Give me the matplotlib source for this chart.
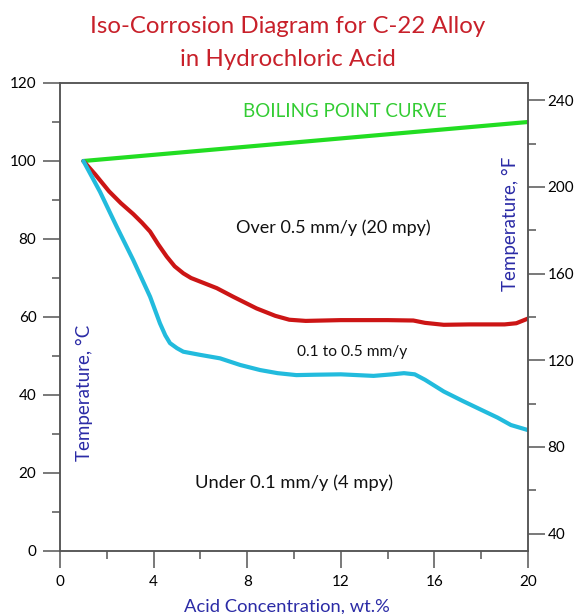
import matplotlib
matplotlib.use("Agg")
import matplotlib.pyplot as plt
from matplotlib.ticker import MultipleLocator

plt.rcParams['font.family'] = ['Lato', 'DejaVu Sans']

# Data
boil_x = [1, 20]
boil_y = [100, 110]

red_x = [1.0, 1.5, 2.1, 2.6, 3.13, 3.5, 3.85, 4.2, 4.56, 4.9, 5.27, 5.6, 5.98, 6.7, 7.4, 8.4, 9.2, 9.8, 10.5, 12.0, 14.0, 15.1, 15.6, 16.4, 17.5, 19.0, 19.5, 20.0]
red_y = [100, 96.6, 92.2, 89.2, 86.4, 84.2, 81.9, 78.6, 75.5, 73.0, 71.2, 70.0, 69.1, 67.4, 65.2, 62.2, 60.3, 59.3, 59.0, 59.2, 59.2, 59.1, 58.5, 58.0, 58.1, 58.1, 58.4, 59.6]

cyan_x = [1.0, 1.71, 2.42, 3.13, 3.85, 4.27, 4.5, 4.7, 5.0, 5.27, 5.98, 6.84, 7.7, 8.55, 9.3, 10.1, 10.9, 12.0, 13.4, 14.2, 14.7, 15.16, 15.6, 16.4, 17.2, 18.0, 18.7, 19.27, 20.0]
cyan_y = [100, 92.1, 83.2, 74.6, 65.2, 58.4, 55.3, 53.3, 52.0, 51.1, 50.3, 49.4, 47.7, 46.4, 45.6, 45.1, 45.2, 45.3, 44.9, 45.3, 45.6, 45.3, 43.9, 40.9, 38.5, 36.2, 34.2, 32.3, 31.0]

x_ticks = [0, 4, 8, 12, 16, 20]
c_ticks = [0, 20, 40, 60, 80, 100, 120]
f_ticks = [40, 80, 120, 160, 200, 240]
f_minor = [60, 100, 140, 180, 220]

title_lines = ['Iso-Corrosion Diagram for C-22 Alloy', 'in Hydrochloric Acid']

title_color = '#c8202a'
label_color = '#2b2ba6'
spine_color = '#555555'

fig = plt.figure(figsize=(5.8, 6.14), dpi=100)
ax = fig.add_axes([60/580, 1-551/614, 468/580, 468/614])

ax.plot(boil_x, boil_y, color='#22dd22', lw=3, solid_capstyle='round')
ax.plot(red_x, red_y, color='#cc1515', lw=3, solid_capstyle='round', solid_joinstyle='round')
ax.plot(cyan_x, cyan_y, color='#22bbdd', lw=3, solid_capstyle='round', solid_joinstyle='round')

ax.set_xlim(0, 20)
ax.set_ylim(0, 120)
ax.set_xticks(x_ticks)
ax.set_yticks(c_ticks)
ax.xaxis.set_minor_locator(MultipleLocator(2))
ax.yaxis.set_minor_locator(MultipleLocator(10))
ax.tick_params(which='major', direction='out', length=12, width=1.1, color=spine_color,
               labelsize=11, pad=5)
ax.tick_params(which='minor', direction='out', length=6, width=1.1, color=spine_color)
for s in ax.spines.values():
    s.set_color(spine_color)
    s.set_linewidth(1.1)

ax2 = ax.twinx()
ax2.set_ylim(32, 248)
ax2.set_yticks(f_ticks)
ax2.set_yticks(f_minor, minor=True)
ax2.tick_params(which='major', direction='out', length=12, width=1.1, color=spine_color,
                labelsize=11, pad=2)
ax2.tick_params(which='minor', direction='out', length=6, width=1.1, color=spine_color)
for s in ax2.spines.values():
    s.set_color(spine_color)
    s.set_linewidth(1.1)

# In-plot labels
ax.text(1.03, 40.5, 'Temperature, °C', rotation=90, color=label_color, fontsize=13.5,
        ha='center', va='center')
ax.text(19.23, 84, 'Temperature, °F', rotation=90, color=label_color, fontsize=13.5,
        ha='center', va='center')
ax.text(12.18, 112.6, 'BOILING POINT CURVE', color='#33cc33', fontsize=13.5,
        ha='center', va='center')
ax.text(11.67, 83, 'Over 0.5 mm/y (20 mpy)', color='#111111', fontsize=13,
        ha='center', va='center')
ax.text(12.5, 51, '0.1 to 0.5 mm/y', color='#111111', fontsize=11.2,
        ha='center', va='center')
ax.text(10.0, 17.4, 'Under 0.1 mm/y (4 mpy)', color='#111111', fontsize=13.2,
        ha='center', va='center')

fig.text(287/580, 1-607/614, 'Acid Concentration, wt.%', color=label_color, fontsize=13.2,
         ha='center', va='center')
fig.text(287.5/580, 1-33/614, title_lines[0], color=title_color, fontsize=17.3,
         ha='center', va='baseline')
fig.text(287.5/580, 1-66/614, title_lines[1], color=title_color, fontsize=17.3,
         ha='center', va='baseline')

fig.savefig('out.png', dpi=100)
